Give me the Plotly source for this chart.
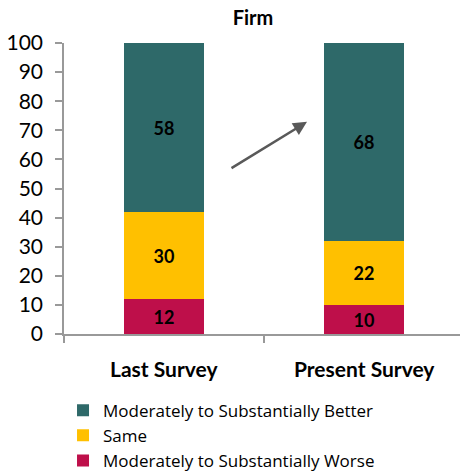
import plotly.graph_objects as go

# Survey responses (percent of firms)
categories = ["Last Survey", "Present Survey"]
worse = [12, 10]
same = [30, 22]
better = [58, 68]

series_names = [
    "Moderately to Substantially Worse",
    "Same",
    "Moderately to Substantially Better",
]
series_colors = ["#BE0F4A", "#FFC000", "#2E6969"]
y_ticks = list(range(0, 101, 10))

FONT = "Lato"
xpos = list(range(len(categories)))

fig = go.Figure()
for name, vals, color in zip(series_names, [worse, same, better], series_colors):
    fig.add_trace(go.Bar(
        x=xpos, y=vals, name=name, width=0.4,
        marker=dict(color=color, line=dict(width=0)),
        text=[str(v) for v in vals], textposition="inside",
        insidetextanchor="middle",
        textfont=dict(family=FONT, size=18, color="#000000", weight="bold"),
    ))

# category labels under the axis
for xi, label in zip(xpos, categories):
    fig.add_annotation(
        x=xi, y=0, xref="x", yref="paper", yshift=-34,
        text=f"<b>{label}</b>", showarrow=False, yanchor="middle",
        font=dict(family=FONT, size=21, color="#000000"),
    )

# trend arrow between the two bars
fig.add_annotation(
    x=0.715, y=72.9, ax=0.33, ay=56.7, xref="x", yref="y", axref="x", ayref="y",
    text="", showarrow=True, arrowhead=2, arrowsize=1.1, arrowwidth=2.5,
    arrowcolor="#595959",
)

fig.update_layout(
    width=460, height=472,
    margin=dict(l=64, r=0, t=43, b=138, autoexpand=False),
    paper_bgcolor="white", plot_bgcolor="white",
    barmode="stack", bargap=0,
    title=dict(text="<b>Firm</b>", x=0.55, xanchor="center", y=0.962, yanchor="middle",
               font=dict(family=FONT, size=20, color="#000000")),
    showlegend=True,
    legend=dict(
        traceorder="reversed", orientation="v",
        xref="container", yref="container",
        x=0.137, xanchor="left", y=0.168, yanchor="top",
        font=dict(family="Open Sans", size=17, color="#000000"),
        bgcolor="rgba(0,0,0,0)", tracegroupgap=0,
    ),
    xaxis=dict(
        range=[-0.5, 1.48], tickvals=[-0.5, 0.5, 1.5], ticktext=["", "", ""],
        ticks="outside", ticklen=7, tickcolor="#999999", tickwidth=1.5,
        showline=True, linecolor="#999999", linewidth=2,
        showgrid=False, zeroline=False, fixedrange=True,
    ),
    yaxis=dict(
        range=[0, 100], tickvals=y_ticks,
        ticks="outside", ticklen=7, tickcolor="#999999", tickwidth=1.5,
        showline=True, linecolor="#999999", linewidth=1.5,
        showgrid=False, zeroline=False, ticklabelstandoff=8,
        tickfont=dict(family=FONT, size=21, color="#000000"),
    ),
)

fig.write_html("out.html")
